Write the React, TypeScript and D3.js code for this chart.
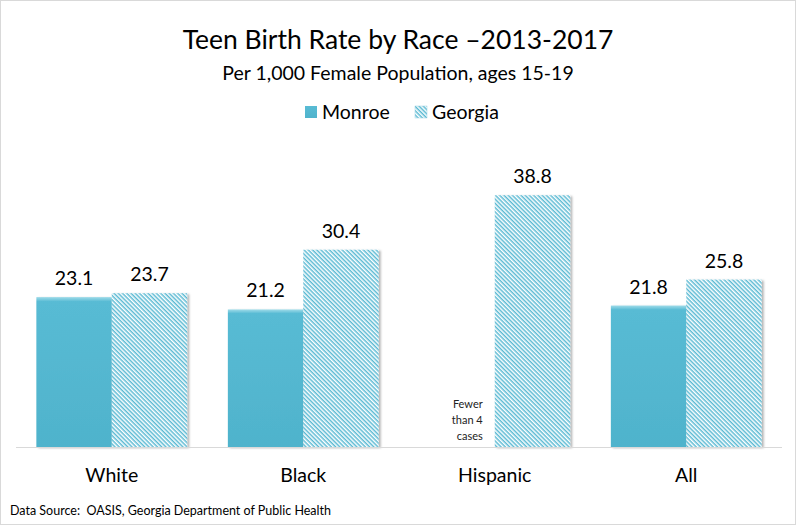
import React from "react";
import * as d3 from "d3";

const categories = ["White", "Black", "Hispanic", "All"];
const seriesNames = ["Monroe", "Georgia"];
const monroe: (number | null)[] = [23.1, 21.2, null, 21.8];
const georgia: number[] = [23.7, 30.4, 38.8, 25.8];

const W = 796;
const H = 525;
const FONT = "Lato, 'Open Sans', sans-serif";

const App: React.FC = () => {
  const x = d3.scaleBand<string>().domain(categories).range([16, 782]).paddingInner(0).paddingOuter(0);
  const inner = d3.scaleBand<string>().domain(seriesNames).range([0, x.bandwidth()]).paddingInner(0).paddingOuter(0.27);
  const y = d3.scaleLinear().domain([0, 45]).range([447, 155]);

  const fmt = d3.format(".1f");

  return (
    <svg width={W} height={H} style={{ display: "block", position: "absolute", left: 0, top: 0 }}>
      <defs>
        <linearGradient id="monroeFill" x1="0" y1="0" x2="0" y2="1">
          <stop offset="0" stopColor="#9fdbe9" />
          <stop offset="0.03" stopColor="#58bbd4" />
          <stop offset="1" stopColor="#4fb3cc" />
        </linearGradient>
        <pattern id="hatch" width="3" height="3" patternUnits="userSpaceOnUse" patternTransform="rotate(45)">
          <rect width="3" height="3" fill="#ffffff" />
          <rect width="3" height="1.5" fill="#5bbad3" />
        </pattern>
        <filter id="shadow" x="-10%" y="-10%" width="130%" height="130%">
          <feDropShadow dx="2" dy="1" stdDeviation="1.2" floodColor="#000" floodOpacity="0.3" />
        </filter>
      </defs>
      <rect x={0.5} y={0.5} width={W - 1} height={H - 1} fill="#fff" stroke="#d9d9d9" />

      <text x={398} y={49} textAnchor="middle" fontFamily={FONT} fontSize={26.5} fill="#000">
        Teen Birth Rate by Race –2013-2017
      </text>
      <text x={398} y={80} textAnchor="middle" fontFamily={FONT} fontSize={19.5} fill="#000">
        Per 1,000 Female Population, ages 15-19
      </text>

      {/* legend */}
      <g fontFamily={FONT} fontSize={19.5}>
        <rect x={305} y={106} width={12} height={12} fill="url(#monroeFill)" />
        <text x={322} y={119}>Monroe</text>
        <rect x={415} y={106} width={12} height={12} fill="url(#hatch)" stroke="#9fd3e2" strokeWidth={0.5} />
        <text x={432} y={119}>Georgia</text>
      </g>

      {/* bars */}
      {categories.map((c, i) => {
        const x0 = x(c)!;
        const m = monroe[i];
        const g = georgia[i];
        return (
          <g key={c}>
            {m !== null && (
              <g>
                <rect x={x0 + inner("Monroe")!} y={y(m)} width={inner.bandwidth()} height={y(0) - y(m)}
                  fill="url(#monroeFill)" filter="url(#shadow)" />
                <text x={x0 + inner("Monroe")! + inner.bandwidth() / 2} y={y(m) - 12} textAnchor="middle"
                  fontFamily={FONT} fontSize={19.5}>{fmt(m)}</text>
              </g>
            )}
            <rect x={x0 + inner("Georgia")!} y={y(g)} width={inner.bandwidth()} height={y(0) - y(g)}
              fill="url(#hatch)" filter="url(#shadow)" />
            <text x={x0 + inner("Georgia")! + inner.bandwidth() / 2} y={y(g) - 12} textAnchor="middle"
              fontFamily={FONT} fontSize={19.5}>{fmt(g)}</text>
            {m === null && (
              <text textAnchor="end" fontFamily={FONT} fontSize={11} fill="#222">
                <tspan x={x0 + inner("Georgia")! - 12} y={408}>Fewer</tspan>
                <tspan x={x0 + inner("Georgia")! - 12} y={424}>than 4</tspan>
                <tspan x={x0 + inner("Georgia")! - 12} y={440}>cases</tspan>
              </text>
            )}
            <text x={x0 + x.bandwidth() / 2} y={482} textAnchor="middle" fontFamily={FONT} fontSize={19.5}>{c}</text>
          </g>
        );
      })}

      <line x1={16} x2={782} y1={y(0) + 0.5} y2={y(0) + 0.5} stroke="#d9d9d9" />

      <text x={10} y={515} fontFamily={FONT} fontSize={12.5} fill="#000" style={{ whiteSpace: "pre" }}>
        {"Data Source:  OASIS, Georgia Department of Public Health"}
      </text>
    </svg>
  );
};

export default App;
